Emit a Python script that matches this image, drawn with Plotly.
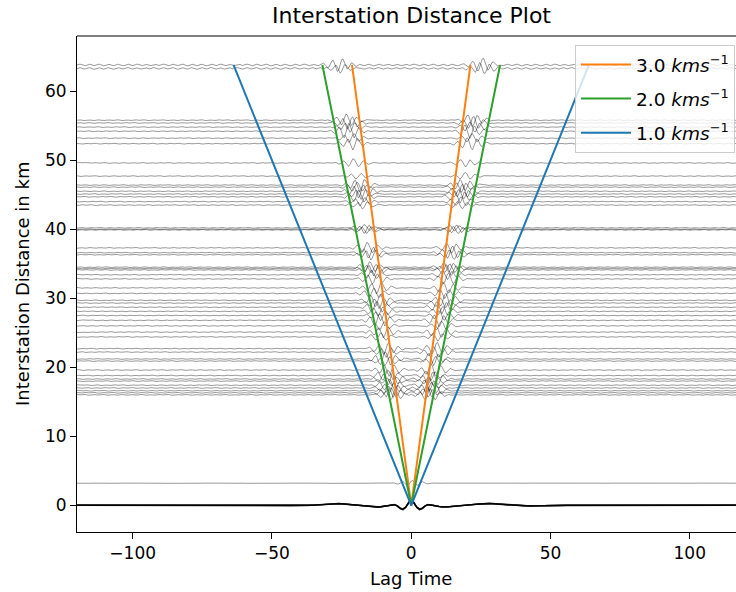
import numpy as np
import plotly.graph_objects as go

# ---------------- data ----------------
distances_km = [63.8, 63.3, 55.8, 55.4, 54.8, 54.2, 53.2, 52.4, 49.6, 47.7,
                46.4, 46.1, 45.5, 45.1, 44.7, 44.0, 43.5, 40.2, 40.0, 39.9,
                37.3, 36.6, 36.3, 34.5, 34.3, 34.1, 33.4, 32.8, 31.5, 30.7,
                29.7, 29.3, 28.7, 28.1, 27.5, 26.8, 26.0, 25.1, 24.4, 22.7,
                22.2, 21.2, 20.9, 19.6, 18.8, 18.3, 18.0, 17.4, 17.0, 16.6,
                16.3, 16.0, 3.2]
arrival_amp = [1.0, 0.8, 0.9, 1.0, 0.8, 1.1, 0.7, 0.9, 0.6, 0.5,
               0.9, 0.7, 1.0, 0.8, 0.9, 0.7, 0.6, 0.5, 0.6, 0.5,
               0.8, 0.9, 0.7, 0.8, 0.6, 0.9, 0.7, 0.8, 0.9, 0.7,
               1.0, 0.8, 0.9, 0.7, 0.8, 0.9, 0.7, 0.8, 0.6, 0.9,
               0.8, 1.0, 0.7, 0.9, 0.8, 1.0, 0.7, 0.9, 0.8, 1.0,
               0.7, 0.9, 0.25]
noise_level = [0.13, 0.13] + [0.07] * 50 + [0.02]
zero_trace_scale = [1.0, 0.85, 1.12, 0.92, 0.97]

velocities = [3.0, 2.0, 1.0]
velocity_labels = ["3.0 <i>kms</i><sup>\u22121</sup>",
                   "2.0 <i>kms</i><sup>\u22121</sup>",
                   "1.0 <i>kms</i><sup>\u22121</sup>"]
velocity_colors = ["#ff7f0e", "#2ca02c", "#1f77b4"]
group_velocity = 2.5

x_ticks = [-100, -50, 0, 50, 100]
y_ticks = [0, 10, 20, 30, 40, 50, 60]

# wavelet samples, 0.5 s apart (km units on the distance axis)
wavelet_a = [0.0, 0.05, 0.1, 0.0, -0.15, -0.25, -0.1, 0.2, 0.45, 0.4, -0.05,
             -0.55, -0.85, -0.5, 0.2, 0.85, 1.0, 0.5, -0.3, -0.8, -0.65, -0.1,
             0.4, 0.5, 0.25, -0.1, -0.25, -0.15, 0.0, 0.05]
wavelet_b = [0.0, -0.05, -0.15, -0.1, 0.1, 0.3, 0.25, -0.1, -0.5, -0.6, -0.2,
             0.45, 0.9, 0.7, 0.0, -0.7, -0.9, -0.4, 0.3, 0.7, 0.5, 0.0, -0.35,
             -0.4, -0.15, 0.1, 0.2, 0.1, 0.0]
wavelet_c = [0.0, 0.1, 0.2, 0.15, -0.05, -0.3, -0.45, -0.2, 0.3, 0.75, 0.8,
             0.2, -0.6, -1.0, -0.6, 0.15, 0.7, 0.6, 0.1, -0.35, -0.45, -0.2,
             0.15, 0.3, 0.15, -0.05, -0.1, 0.0]
noise_pattern = [0.0, 0.5, 0.9, 0.6, -0.1, -0.7, -0.8, -0.3, 0.4, 0.8, 0.5,
                 -0.2, -0.6, -0.4, 0.1, 0.6, 0.9, 0.4, -0.3, -0.9, -0.7, -0.1,
                 0.5, 0.7, 0.3, -0.4, -0.8, -0.5, 0.2, 0.7, 0.6, 0.0, -0.5,
                 -0.9, -0.6, 0.1, 0.6, 0.8, 0.3, -0.3, -0.6, -0.2, 0.4, 0.9,
                 0.7, 0.0, -0.7, -0.8, -0.2, 0.3, 0.5, 0.2, -0.4, -0.7, -0.3,
                 0.3, 0.8, 0.6, -0.1, -0.5]
# autocorrelation (zero-distance) half trace, lags 0..56 s, 1 s apart
autocorr_half = [0.9, 0.35, -0.3, -0.6, -0.45, -0.1, 0.1, 0.05, -0.05, -0.12,
                 -0.18, -0.22, -0.25, -0.24, -0.2, -0.15, -0.1, -0.06, -0.03,
                 0.0, 0.03, 0.06, 0.1, 0.14, 0.18, 0.22, 0.25, 0.27, 0.27,
                 0.25, 0.22, 0.18, 0.14, 0.1, 0.06, 0.03, 0.0, -0.03, -0.05,
                 -0.07, -0.08, -0.09, -0.1, -0.1, -0.09, -0.08, -0.07, -0.06,
                 -0.05, -0.04, -0.03, -0.02, -0.01, 0.0, 0.0, 0.0, 0.0]

# ---------------- build figure ----------------
lag_step = 0.5
lags = np.arange(-120, 120 + lag_step / 2, lag_step)
wavelets = [np.array(wavelet_a), np.array(wavelet_b), np.array(wavelet_c)]
noise_arr = np.array(noise_pattern)

fig = go.Figure()
trace_line = dict(color="rgba(0,0,0,0.5)", width=0.8)


def add_wavelet(y, w, center):
    start = int(round((center - lags[0]) / lag_step)) - len(w) // 2
    for j, v in enumerate(w):
        k = start + j
        if 0 <= k < len(y):
            y[k] += v


for i, d in enumerate(distances_km):
    idx = (np.arange(len(lags)) + 7 * i) % len(noise_arr)
    y = d + noise_level[i] * noise_arr[idx]
    amp = arrival_amp[i]
    t_arr = d / group_velocity
    w_pos = wavelets[i % 3] * amp
    w_neg = wavelets[(i + 1) % 3][::-1] * amp
    add_wavelet(y, w_pos, t_arr)
    add_wavelet(y, w_neg, -t_arr)
    fig.add_trace(go.Scatter(x=lags, y=y, mode="lines", line=trace_line,
                             showlegend=False, hoverinfo="skip"))

ac = np.array(autocorr_half)
ac_full = np.concatenate([ac[::-1], ac[1:]])
ac_lags = np.arange(-(len(ac) - 1), len(ac), 1.0)
ac_lags = np.concatenate([[-120.0], ac_lags, [120.0]])
for s in zero_trace_scale:
    yy = np.concatenate([[0.0], s * ac_full, [0.0]])
    fig.add_trace(go.Scatter(x=ac_lags, y=yy, mode="lines",
                             line=dict(color="rgba(0,0,0,0.6)", width=1.4),
                             showlegend=False, hoverinfo="skip"))

dmax = max(distances_km)
for v, lab, col in zip(velocities, velocity_labels, velocity_colors):
    fig.add_trace(go.Scatter(x=[-dmax / v, 0, dmax / v], y=[dmax, 0, dmax],
                             mode="lines", line=dict(color=col, width=2),
                             name=lab, legendgroup=lab, hoverinfo="skip"))

font_family = "DejaVu Sans"
axis_common = dict(showline=True, linecolor="black", linewidth=1,
                   ticks="outside", ticklen=6, tickwidth=1, tickcolor="black",
                   showgrid=False, zeroline=False,
                   tickfont=dict(family=font_family, size=17, color="black"))

PH = 496.0  # plot height in px
PW = 659.0  # plot width in px
fig.update_layout(
    width=736, height=592,
    margin=dict(l=77, r=0, t=36, b=60),
    paper_bgcolor="white", plot_bgcolor="white",
    font=dict(family=font_family, color="black"),
    xaxis=dict(range=[-120, 116.6], tickvals=x_ticks, **axis_common),
    yaxis=dict(range=[-3.87, 68.0], tickvals=y_ticks, **axis_common),
    legend=dict(x=1 - 1 / PW, xanchor="right", y=1 - 9 / PH, yanchor="top",
                bgcolor="rgba(255,255,255,0.8)", bordercolor="#cccccc",
                borderwidth=1, tracegroupgap=7, itemwidth=50,
                font=dict(family=font_family, size=18.5, color="black")),
    shapes=[dict(type="line", xref="paper", yref="paper", x0=0, x1=1,
                 y0=1, y1=1, line=dict(color="black", width=1))],
    annotations=[
        dict(text="Interstation Distance Plot", xref="paper", yref="paper",
             x=0.507, y=1 + 21 / PH, xanchor="center", yanchor="middle",
             showarrow=False, font=dict(family=font_family, size=22)),
        dict(text="Lag Time", xref="paper", yref="paper",
             x=0.507, y=-46 / PH, xanchor="center", yanchor="middle",
             showarrow=False, font=dict(family=font_family, size=18)),
        dict(text="Interstation Distance in km", xref="paper", yref="paper",
             x=-55 / PW, y=0.5, xanchor="center", yanchor="middle",
             textangle=-90, showarrow=False,
             font=dict(family=font_family, size=18)),
    ],
)

fig.write_html("out.html",
               config={"displayModeBar": False},
               post_script="document.body.style.margin='0px';"
                           "document.body.style.overflow='hidden';")
